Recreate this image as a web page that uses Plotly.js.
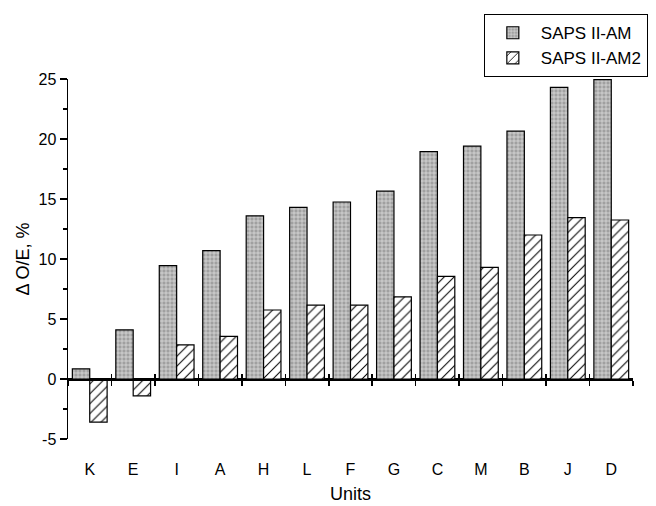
<!DOCTYPE html>
<html>
<head>
<meta charset="utf-8">
<script src="https://cdn.plot.ly/plotly-3.0.1.min.js"></script>
<style>html,body{margin:0;padding:0;background:#fff;}#chart{width:656px;height:506px;}</style>
</head>
<body>
<div id="chart"></div>
<script>
const units = ["K","E","I","A","H","L","F","G","C","M","B","J","D"];
const sapsAM  = [0.85, 4.1, 9.45, 10.7, 13.6, 14.3, 14.75, 15.65, 18.95, 19.4, 20.65, 24.3, 24.95];
const sapsAM2 = [-3.6, -1.4, 2.85, 3.55, 5.75, 6.15, 6.15, 6.85, 8.55, 9.3, 12.0, 13.45, 13.25];
const seriesNames = ["SAPS II-AM", "SAPS II-AM2"];
const yTicks = [-5, 0, 5, 10, 15, 20, 25];
const yTickText = ["-5", "0", "5", "10", "15", "20", "25"];

const font = {family: "Arial, 'Liberation Sans', sans-serif", color: "#000"};
const f = (s) => Object.assign({size: s}, font);

const data = [
  {
    type: "bar", x: units, y: sapsAM, name: seriesNames[0],
    marker: {
      color: "#a9a9a9",
      line: {color: "#000", width: 1.2},
      pattern: {shape: "+", fgcolor: "#e6e6e6", bgcolor: "#a0a0a0", size: 4, solidity: 0.3}
    }
  },
  {
    type: "bar", x: units, y: sapsAM2, name: seriesNames[1],
    marker: {
      color: "#fff",
      line: {color: "#000", width: 1.2},
      pattern: {shape: "/", fgcolor: "#000", bgcolor: "#fff", size: 7, solidity: 0.15}
    }
  },
  // invisible carriers so the zero-line boundary-tick axes get drawn
  {type: "scatter", mode: "markers", x: units, y: sapsAM, xaxis: "x2", marker: {opacity: 0, size: 1}, showlegend: false, hoverinfo: "skip"},
  {type: "scatter", mode: "markers", x: units, y: sapsAM, xaxis: "x3", marker: {opacity: 0, size: 1}, showlegend: false, hoverinfo: "skip"}
];

const zeroAxis = {
  overlaying: "x", anchor: "free", position: 5/30, type: "category", side: "bottom",
  range: [-0.5, 12.5], tickson: "boundaries",
  showticklabels: true, tickfont: {color: "rgba(0,0,0,0)", size: 8},
  showline: true, linecolor: "#000", linewidth: 1.5,
  showgrid: false, zeroline: false,
  ticklen: 5, tickwidth: 1.5, tickcolor: "#000"
};

const layout = {
  width: 656, height: 506,
  margin: {l: 68, r: 23, t: 79, b: 67, autoexpand: false},
  paper_bgcolor: "#fff", plot_bgcolor: "#fff",
  font: f(16),
  barmode: "group", bargap: 0.2, bargroupgap: 0,
  showlegend: true,
  legend: {
    x: 0.736, y: 1.18, xanchor: "left", yanchor: "top",
    bordercolor: "#000", borderwidth: 1, bgcolor: "#fff",
    font: f(17), tracegroupgap: 0, itemwidth: 46
  },
  xaxis: {
    type: "category", range: [-0.5, 12.5],
    showline: false, showgrid: false, zeroline: false,
    ticks: "outside", ticklen: 16, tickcolor: "rgba(0,0,0,0)",
    tickfont: f(16),
    title: {text: "Units", font: f(18), standoff: 10}
  },
  xaxis2: Object.assign({ticks: "outside"}, zeroAxis),
  xaxis3: Object.assign({ticks: "inside"}, zeroAxis),
  yaxis: {
    range: [-5, 25], tickmode: "array", tickvals: yTicks, ticktext: yTickText,
    showline: true, linecolor: "#000", linewidth: 1.5,
    showgrid: false,
    zeroline: true, zerolinecolor: "#000", zerolinewidth: 1.5,
    ticks: "outside", ticklen: 7, tickwidth: 1.5, tickcolor: "#000",
    minor: {tickmode: "linear", tick0: 0, dtick: 2.5, ticks: "outside", ticklen: 4, tickwidth: 1.5, tickcolor: "#000"},
    tickfont: f(16),
    title: {text: "Δ O/E, %", font: f(18), standoff: 4}
  }
};

Plotly.newPlot("chart", data, layout, {displayModeBar: false, staticPlot: true});
</script>
</body>
</html>
